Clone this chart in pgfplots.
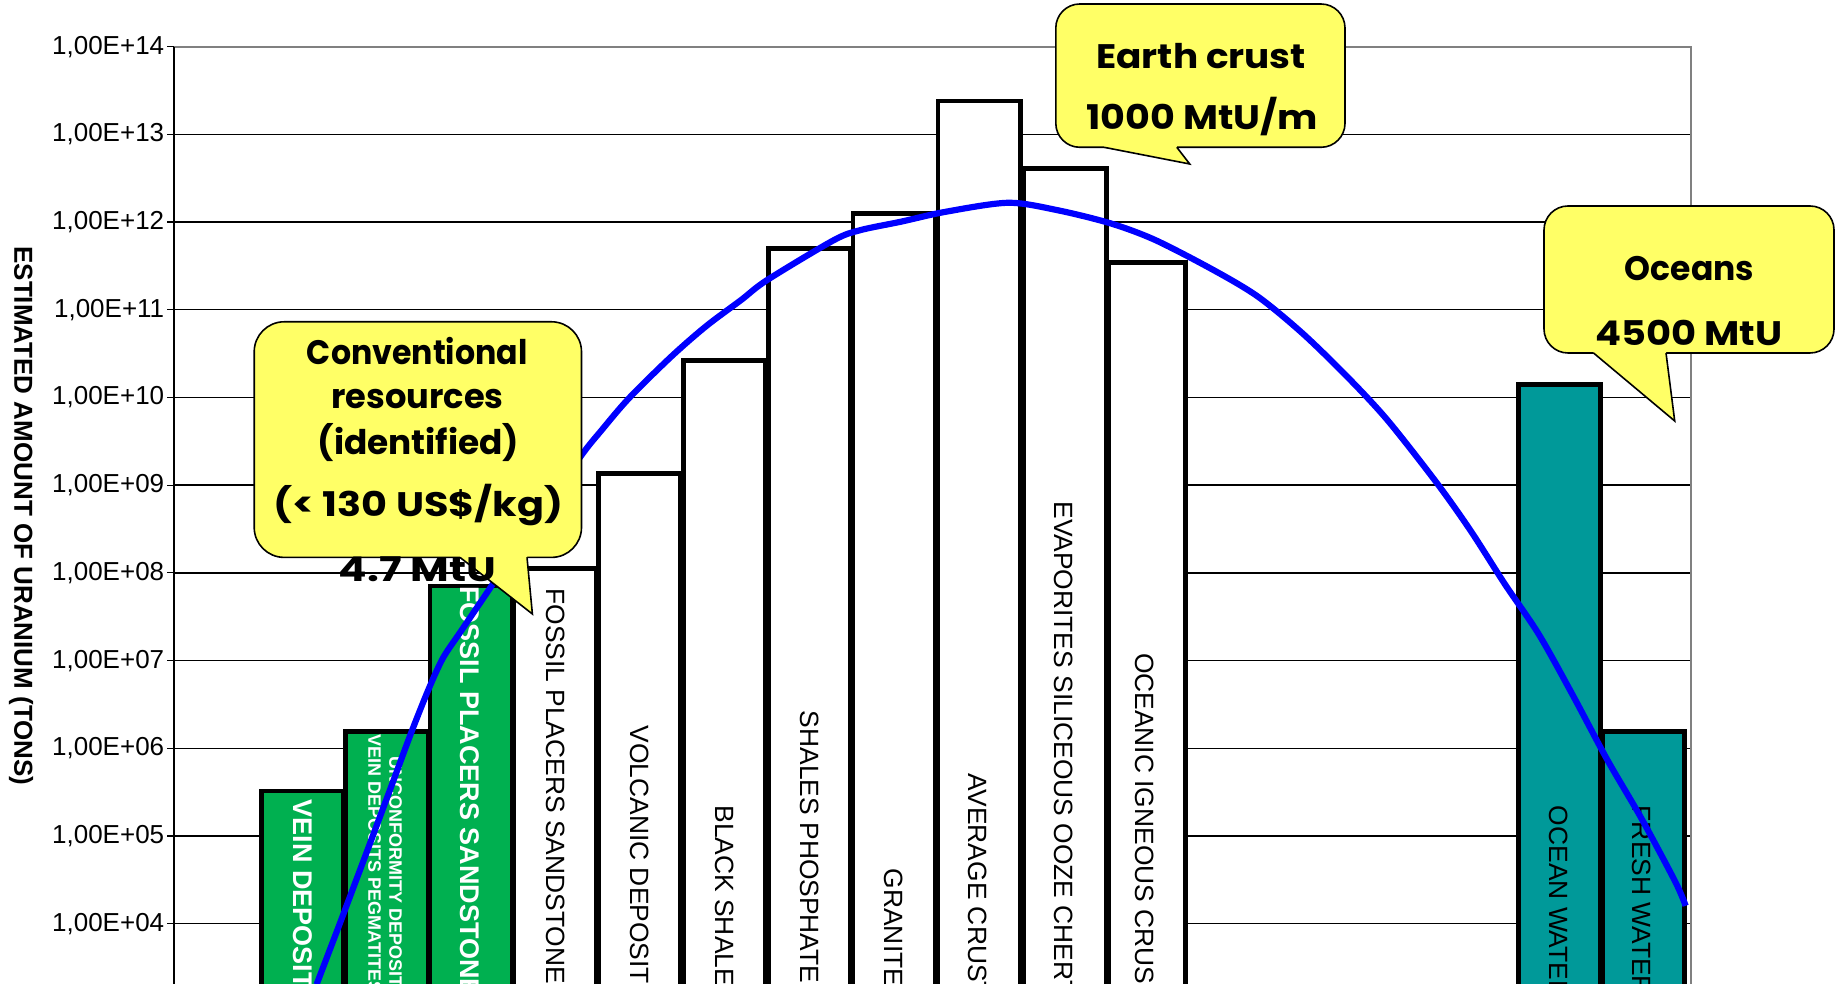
\documentclass[border=0pt]{standalone}
\usepackage{fontspec}
\setmainfont{Liberation Sans}
\newfontfamily\calloutfont{Poppins}
\usepackage{pgfplots}
\pgfplotsset{compat=1.18}

\definecolor{depgreen}{RGB}{0,176,80}
\definecolor{seateal}{RGB}{0,153,153}
\definecolor{noteyellow}{RGB}{255,255,102}
\definecolor{framegray}{RGB}{128,128,128}
\definecolor{curveblue}{RGB}{0,0,255}

\tikzset{
  barlab/.style={rotate=-90, anchor=west, inner sep=0pt,
    font=\fontsize{13.2}{14}\selectfont},
  greenlab/.style={barlab, text=white,
    font=\bfseries\fontsize{13.5}{14}\selectfont},
  smallgreenlab/.style={barlab, text=white,
    font=\bfseries\fontsize{9}{10}\selectfont},
  notetext/.style={anchor=base, inner sep=0pt,
    font=\calloutfont\bfseries\fontsize{17}{19}\selectfont},
  notebox/.style={fill=noteyellow, draw=black, line width=0.8pt},
}
% callout line, widened to the width of the hand-lettered original
\newcommand{\nt}[2]{\scalebox{#1}[1]{#2}}

\begin{document}
\begin{tikzpicture}
\begin{axis}[
  name=main,
  at={(87pt,0pt)}, anchor=south west,
  scale only axis, width=758.5pt, height=468.65pt,
  xmin=-1.531, xmax=16.544,
  ymode=log, ymin=2053, ymax=1e14,
  xtick=\empty,
  ytick={1e4,1e5,1e6,1e7,1e8,1e9,1e10,1e11,1e12,1e13,1e14},
  yticklabels={{1,00E+04},{1,00E+05},{1,00E+06},{1,00E+07},{1,00E+08},
    {1,00E+09},{1,00E+10},{1,00E+11},{1,00E+12},{1,00E+13},{1,00E+14}},
  yminorticks=false,
  ytick pos=left,
  tick align=outside,
  major tick length=3.5pt,
  tick style={black, line width=0.6pt},
  ymajorgrids,
  major grid style={black, line width=0.7pt},
  axis line style={draw=none},
  yticklabel style={font=\fontsize{13}{14}\selectfont, inner sep=1.2pt},
  bar width=0.98,
]
% ore deposits (conventional resources)
\addplot[ybar, bar shift=0pt, fill=depgreen, draw=black, line width=2.4pt]
  coordinates {(0,3.26e5) (1.005,1.56e6) (2.008,7.1e7)};
% rocks and crust
\addplot[ybar, bar shift=0pt, fill=white, draw=black, line width=2.4pt]
  coordinates {(3.011,1.12e8) (4.014,1.35e9) (5.028,2.65e10) (6.040,5.0e11)
               (7.050,1.26e12) (8.061,2.4e13) (9.085,4.1e12)};
\addplot[ybar, bar shift=0pt, bar width=0.92, fill=white, draw=black, line width=2.4pt]
  coordinates {(10.064,3.47e11)};
% waters
\addplot[ybar, bar shift=0pt, fill=seateal, draw=black, line width=2.4pt]
  coordinates {(14.976,1.42e10) (15.981,1.56e6)};

% names written inside the bars
\node[greenlab] at (rel axis cs:0.0848,0.1970) {VEIN DEPOSITS};
\node[smallgreenlab] at (rel axis cs:0.1461,0.2435) {UNCONFORMITY DEPOSITS};
\node[smallgreenlab] at (rel axis cs:0.1322,0.2667) {VEIN DEPOSITS PEGMATITES};
\node[greenlab] at (rel axis cs:0.1947,0.4249) {FOSSIL PLACERS SANDSTONES};
\node[barlab] at (rel axis cs:0.2513,0.4225) {FOSSIL PLACERS SANDSTONES};
\node[barlab] at (rel axis cs:0.3068,0.2760) {VOLCANIC DEPOSITS};
\node[barlab] at (rel axis cs:0.3628,0.1909) {BLACK SHALES};
\node[barlab] at (rel axis cs:0.4193,0.2917) {SHALES PHOSPHATES};
\node[barlab] at (rel axis cs:0.4741,0.1234) {GRANITES};
\node[barlab] at (rel axis cs:0.5295,0.2245) {AVERAGE CRUST};
\node[barlab] at (rel axis cs:0.5863,0.5153) {EVAPORITES SILICEOUS OOZE CHERTS};
\node[barlab] at (rel axis cs:0.6400,0.3535) {OCEANIC IGNEOUS CRUST};
\node[barlab] at (rel axis cs:0.9127,0.1905) {OCEAN WATER};
\node[barlab] at (rel axis cs:0.9672,0.1905) {FRESH WATER};

% distribution curve
\addplot[curveblue, line width=3.1pt, smooth, no marks] coordinates {
  (0.168,2.03e3) (0.462,1.11e4) (0.755,6.17e4) (1.047,3.45e5) (1.298,1.53e6)
  (1.506,4.81e6) (1.674,1.07e7) (1.883,2.13e7) (2.217,6.32e7) (2.77,3.89e8)
  (3.325,2.20e9) (3.555,4.14e9) (3.889,9.79e9) (4.391,2.91e10) (4.808,6.49e10)
  (5.225,1.29e11) (5.535,2.18e11) (6.333,6.24e11) (6.651,8.11e11) (7.130,1.01e12)
  (7.662,1.31e12) (8.406,1.66e12) (8.990,1.37e12) (9.630,9.66e11) (10.161,6.24e11)
  (10.854,2.84e11) (11.385,1.41e11) (11.916,5.38e10) (12.449,1.72e10) (12.928,5.51e9)
  (13.512,1.07e9) (13.918,3.03e8) (14.324,7.50e7) (14.731,1.99e7) (15.138,3.99e6)
  (15.544,7.46e5) (15.951,1.60e5) (16.357,3.00e4) (16.480,1.60e4)};
\end{axis}

% plot frame
\draw[framegray, line width=1pt] (main.north west) -- (main.north east) -- (main.south east);
\draw[black, line width=0.9pt] (main.south west) -- (main.north west);

\begin{scope}[x=0.5pt, y=-0.5pt, shift={(0pt,492pt)}]
  % axis title
  \node[rotate=-90, font=\bfseries\fontsize{13}{14}\selectfont]
    at (21,516) {ESTIMATED AMOUNT OF URANIUM (TONS)};

  % conventional resources
  \draw[notebox, rounded corners=15pt] (254.2,321.8) rectangle (581.5,557.4);
  \fill[noteyellow] (460,553) -- (460,557.4) -- (532.4,614) -- (527,557.4) -- (527,553) -- cycle;
  \draw[line width=0.8pt] (460,557.4) -- (532.4,614) -- (527,557.4);
  \node[notetext] at (417.2,364.6) {\nt{0.93}{Conventional}};
  \node[notetext] at (417.5,409) {\nt{0.99}{resources}};
  \node[notetext] at (418.4,454.9) {\nt{1.01}{(identified)}};
  \node[notetext] at (418.4,516.8) {\nt{1.17}{(< 130 US\$/kg)}};
  \node[notetext] at (417.5,581.4) {\nt{1.24}{4.7 MtU}};

  % earth crust
  \draw[notebox, rounded corners=12pt] (1055.8,4) rectangle (1345,147.3);
  \fill[noteyellow] (1104,143) -- (1104,147.3) -- (1189.7,164) -- (1176.8,147.3) -- (1176.8,143) -- cycle;
  \draw[line width=0.8pt] (1104,147.3) -- (1189.7,164) -- (1176.8,147.3);
  \node[notetext] at (1201.1,68.3) {\nt{1.1}{Earth crust}};
  \node[notetext] at (1202.4,130) {\nt{1.12}{1000 MtU/m}};

  % oceans
  \draw[notebox, rounded corners=12pt] (1544,206) rectangle (1834,353);
  \fill[noteyellow] (1593.5,349) -- (1593.5,353) -- (1674.7,421) -- (1666,353) -- (1666,349) -- cycle;
  \draw[line width=0.8pt] (1593.5,353) -- (1674.7,421) -- (1666,353);
  \node[notetext] at (1689.5,280.3) {\nt{0.97}{Oceans}};
  \node[notetext] at (1689,345.8) {\nt{1.13}{4500 MtU}};
\end{scope}

\pgfresetboundingbox
\path[use as bounding box] (0,0) rectangle (917.5pt,492pt);
\end{tikzpicture}
\end{document}
